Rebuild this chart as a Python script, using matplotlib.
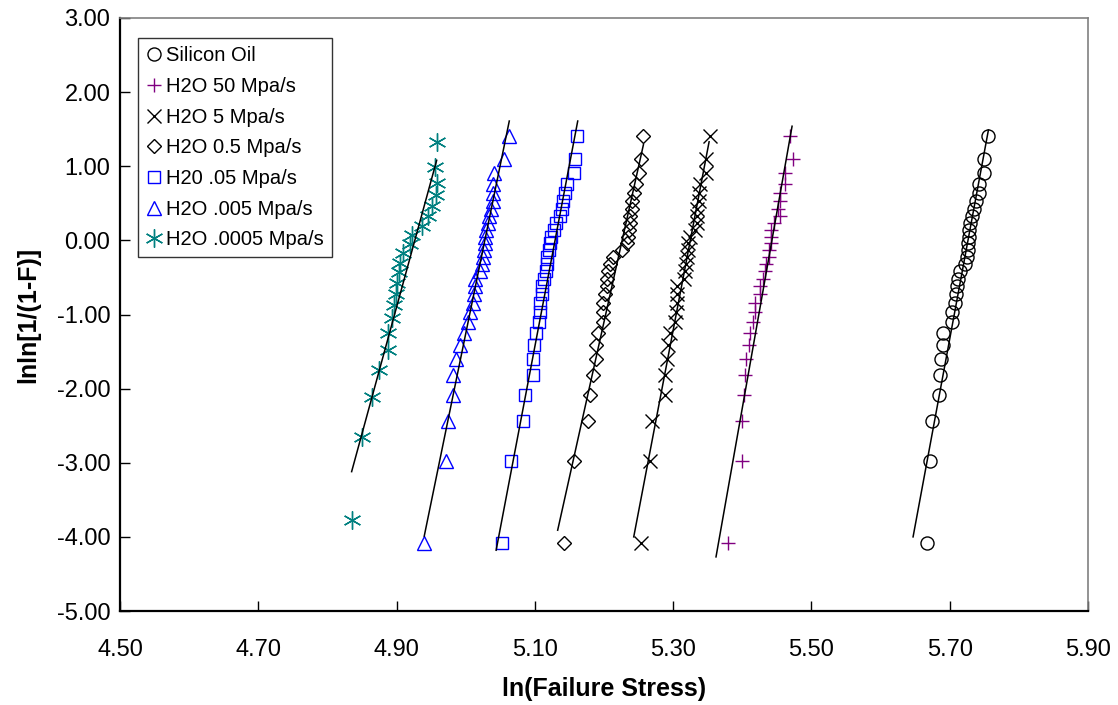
import matplotlib
matplotlib.use("Agg")
import matplotlib.pyplot as plt

# ---- data ----
# Weibull plotting positions lnln[1/(1-F)]
y_n30 = [-4.086, -2.970, -2.442, -2.087, -1.817, -1.597, -1.410, -1.246, -1.099, -0.966,
         -0.842, -0.727, -0.618, -0.515, -0.415, -0.319, -0.225, -0.133, -0.042, 0.049,
         0.140, 0.232, 0.327, 0.425, 0.529, 0.640, 0.765, 0.910, 1.097, 1.410]
y_n22 = [-3.773, -2.650, -2.115, -1.753, -1.475, -1.246, -1.049, -0.875, -0.717, -0.570,
         -0.433, -0.302, -0.175, -0.050, 0.073, 0.198, 0.327, 0.462, 0.609, 0.777,
         0.988, 1.331]

x_silicon = [5.667, 5.672, 5.674, 5.684, 5.686, 5.688, 5.690, 5.691, 5.704, 5.703,
             5.708, 5.709, 5.710, 5.712, 5.715, 5.722, 5.725, 5.726, 5.727, 5.728,
             5.728, 5.729, 5.732, 5.735, 5.738, 5.743, 5.743, 5.749, 5.749, 5.755]
x_h2o_50 = [5.380, 5.399, 5.400, 5.402, 5.404, 5.405, 5.409, 5.411, 5.415, 5.418,
            5.418, 5.426, 5.426, 5.430, 5.433, 5.435, 5.438, 5.439, 5.441, 5.442,
            5.442, 5.446, 5.454, 5.452, 5.455, 5.455, 5.462, 5.462, 5.473, 5.469]
x_h2o_5 = [5.253, 5.266, 5.269, 5.288, 5.288, 5.291, 5.293, 5.295, 5.303, 5.304,
           5.306, 5.306, 5.306, 5.316, 5.317, 5.319, 5.320, 5.322, 5.322, 5.324,
           5.332, 5.334, 5.335, 5.335, 5.337, 5.338, 5.339, 5.348, 5.348, 5.353]
x_h2o_05 = [5.142, 5.156, 5.177, 5.180, 5.184, 5.189, 5.189, 5.192, 5.198, 5.198,
            5.199, 5.201, 5.204, 5.205, 5.206, 5.209, 5.213, 5.226, 5.233, 5.235,
            5.236, 5.238, 5.238, 5.240, 5.241, 5.243, 5.247, 5.250, 5.254, 5.257]
x_h2o_005 = [5.052, 5.066, 5.083, 5.086, 5.097, 5.098, 5.099, 5.102, 5.106, 5.107,
             5.108, 5.110, 5.110, 5.113, 5.116, 5.117, 5.118, 5.121, 5.122, 5.124,
             5.127, 5.131, 5.136, 5.139, 5.141, 5.144, 5.146, 5.156, 5.158, 5.161]
x_h2o_0005 = [4.939, 4.972, 4.975, 4.981, 4.982, 4.986, 4.992, 4.997, 5.004, 5.006,
              5.010, 5.012, 5.013, 5.013, 5.021, 5.024, 5.025, 5.026, 5.028, 5.028,
              5.030, 5.032, 5.034, 5.037, 5.039, 5.039, 5.040, 5.041, 5.056, 5.062]
x_h2o_00005 = [4.835, 4.850, 4.865, 4.875, 4.888, 4.888, 4.893, 4.896, 4.899, 4.901,
               4.903, 4.905, 4.910, 4.920, 4.923, 4.937, 4.945, 4.951, 4.957, 4.958,
               4.956, 4.958]

labels = ["Silicon Oil", "H2O 50 Mpa/s", "H2O 5 Mpa/s", "H2O 0.5 Mpa/s",
          "H20 .05 Mpa/s", "H2O .005 Mpa/s", "H2O .0005 Mpa/s"]

# fitted trend lines: (x_start, x_end), (y_start, y_end)
fit_x = [(5.647, 5.756), (5.362, 5.472), (5.243, 5.352), (5.133, 5.257),
         (5.044, 5.162), (4.940, 5.063), (4.835, 4.958)]
fit_y = [(-4.00, 1.49), (-4.27, 1.54), (-4.00, 1.33), (-3.91, 1.29),
         (-4.18, 1.61), (-3.99, 1.61), (-3.12, 1.08)]

x_ticks = [4.50, 4.70, 4.90, 5.10, 5.30, 5.50, 5.70, 5.90]
y_ticks = [-5.00, -4.00, -3.00, -2.00, -1.00, 0.00, 1.00, 2.00, 3.00]

# ---- style ----
plt.rcParams['font.family'] = ['Liberation Sans', 'DejaVu Sans']

series = [
    (x_silicon, y_n30, dict(marker='o', color='black', ms=9.4)),
    (x_h2o_50, y_n30, dict(marker='+', color='#800080', ms=10.5)),
    (x_h2o_5, y_n30, dict(marker='x', color='black', ms=10)),
    (x_h2o_05, y_n30, dict(marker='D', color='black', ms=7.6)),
    (x_h2o_005, y_n30, dict(marker='s', color='#0000FF', ms=8.6)),
    (x_h2o_0005, y_n30, dict(marker='^', color='#0000FF', ms=10)),
    (x_h2o_00005, y_n22, dict(marker=(6, 2, 0), color='#008080', ms=13)),
]

fig = plt.figure(figsize=(11.18, 7.05), dpi=100)
ax = fig.add_axes([120 / 1118, 1 - 611 / 705, 968 / 1118, 593 / 705])

for (xs, ys, st), lab in zip(series, labels):
    ax.plot(xs, ys, linestyle='none', marker=st['marker'], markersize=st['ms'],
            markerfacecolor='none', markeredgecolor=st['color'], markeredgewidth=1.0,
            label=lab)

for fx, fy in zip(fit_x, fit_y):
    ax.plot(fx, fy, color='black', linewidth=1.1)

ax.set_xlim(4.5, 5.9)
ax.set_ylim(-5, 3)
ax.set_xticks(x_ticks)
ax.set_xticklabels([f"{v:.2f}" for v in x_ticks])
ax.set_yticks(y_ticks)
ax.set_yticklabels([f"{v:.2f}" for v in y_ticks])
ax.tick_params(axis='both', direction='in', length=7, width=1, labelsize=17)
ax.tick_params(axis='x', pad=20)
ax.tick_params(axis='y', pad=7)

for side in ['top', 'right']:
    ax.spines[side].set_color('#808080')
    ax.spines[side].set_linewidth(1.2)
for side in ['left', 'bottom']:
    ax.spines[side].set_color('black')
    ax.spines[side].set_linewidth(1.6)

ax.set_xlabel("ln(Failure Stress)", fontsize=18, fontweight='bold', labelpad=12)
ax.set_ylabel("lnln[1/(1-F)]", fontsize=18, fontweight='bold', labelpad=12)

leg = ax.legend(loc='upper left', bbox_to_anchor=(0.0186, 0.966), borderaxespad=0,
                fontsize=14.5, frameon=True, fancybox=False, handlelength=0.8,
                handletextpad=0.2, labelspacing=0.58, borderpad=0.4)
leg.get_frame().set_edgecolor('black')
leg.get_frame().set_linewidth(1.0)

fig.savefig("out.png", dpi=100)
